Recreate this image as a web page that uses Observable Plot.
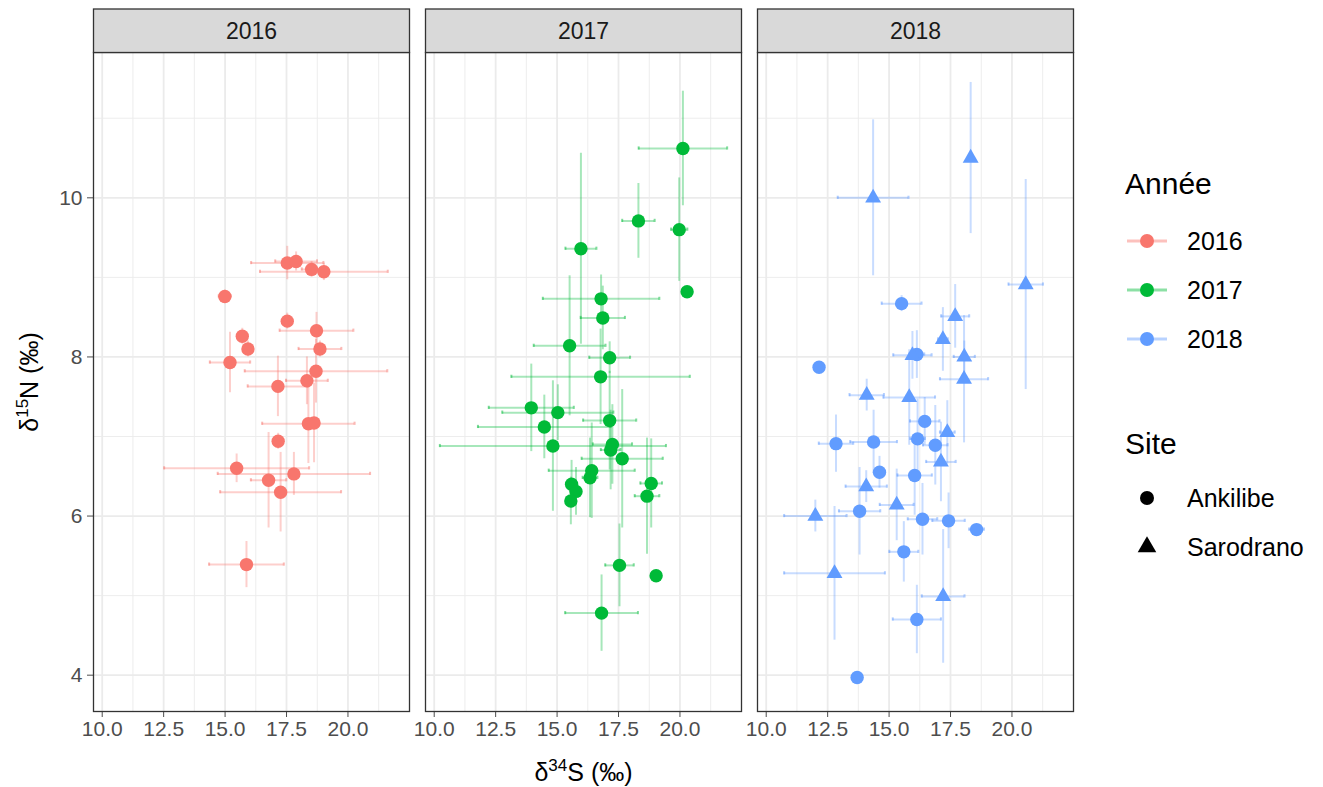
<!DOCTYPE html>
<html>
<head>
<meta charset="utf-8">
<script src="https://cdn.jsdelivr.net/npm/d3@7"></script>
<script src="https://cdn.jsdelivr.net/npm/@observablehq/plot@0.6"></script>
<style>
  html, body { margin: 0; padding: 0; background: #fff; }
  #wrap { position: relative; width: 1323px; height: 787px; font-family: "Liberation Sans", Arial, sans-serif; }
</style>
</head>
<body>
<div id="wrap"></div>
<script>
// ---------- data ----------
const years = ["2016", "2017", "2018"];
const yearColors = ["#F8766D", "#00BA38", "#619CFF"];
const sites = ["Ankilibe", "Sarodrano"];
const xMajor = [10, 12.5, 15, 17.5, 20];
const xMinor = [11.25, 13.75, 16.25, 18.75, 21.25];
const yMajor = [4, 6, 8, 10];
const yMinor = [5, 7, 9, 11];
const xTitle = ["δ", "34", "S (‰)"];
const yTitle = ["δ", "15", "N (‰)"];
const legendColorTitle = "Année";
const legendShapeTitle = "Site";

const A = "Ankilibe", S = "Sarodrano";
// [δ34S, δ15N, sd δ34S, sd δ15N, site]
const data2016 = [
  [17.53, 9.18, 1.47, 0.21, A], [17.89, 9.20, 0.85, 0.12, A], [18.52, 9.10, 0.40, 0.10, A],
  [19.02, 9.07, 2.60, 0.11, A], [14.99, 8.76, 0.25, 0.08, A], [17.53, 8.45, 0.10, 0.10, A],
  [18.72, 8.33, 1.50, 0.23, A], [15.70, 8.26, 0.15, 0.10, A], [15.93, 8.10, 0.15, 0.10, A],
  [18.86, 8.10, 0.87, 0.10, A], [15.20, 7.93, 0.82, 0.38, A], [18.70, 7.82, 2.90, 0.40, A],
  [18.33, 7.70, 0.85, 0.30, A], [17.15, 7.63, 1.23, 0.38, A], [18.39, 7.16, 1.88, 0.50, A],
  [18.62, 7.17, 0.20, 0.50, A], [17.16, 6.94, 0.20, 0.10, A], [15.47, 6.60, 2.95, 0.18, A],
  [17.80, 6.53, 3.10, 0.27, A], [16.77, 6.45, 0.72, 0.60, A], [17.26, 6.30, 2.46, 0.50, A],
  [15.87, 5.39, 1.52, 0.29, A]
];
const data2017 = [
  [20.12, 10.62, 1.80, 0.72, A], [18.31, 9.71, 0.66, 0.47, A], [19.97, 9.60, 0.33, 0.65, A],
  [15.97, 9.36, 0.63, 1.20, A], [20.29, 8.82, 0.05, 0.05, A], [16.79, 8.73, 2.37, 0.30, A],
  [16.86, 8.49, 0.90, 0.40, A], [15.51, 8.14, 1.46, 0.88, A], [17.14, 7.99, 0.83, 0.20, A],
  [16.77, 7.75, 3.63, 0.60, A], [13.95, 7.36, 1.73, 0.55, A], [15.03, 7.30, 2.26, 0.35, A],
  [17.14, 7.20, 1.08, 0.62, A], [14.48, 7.12, 2.70, 0.40, A], [17.25, 6.90, 0.80, 0.50, A],
  [17.18, 6.83, 0.40, 0.50, A], [14.83, 6.88, 4.60, 0.82, A], [17.65, 6.72, 1.65, 0.87, A],
  [16.41, 6.57, 1.75, 0.60, A], [16.34, 6.48, 0.30, 0.50, A], [18.83, 6.41, 0.44, 0.56, A],
  [18.66, 6.25, 0.50, 0.73, A], [15.59, 6.40, 0.20, 0.30, A], [15.77, 6.31, 0.20, 0.30, A],
  [15.56, 6.19, 0.20, 0.30, A], [17.54, 5.38, 0.58, 0.52, A], [19.03, 5.25, 0.05, 0.05, A],
  [16.81, 4.78, 1.48, 0.48, A]
];
const data2018 = [
  [14.35, 10.00, 1.44, 0.98, S], [18.32, 10.50, 0.10, 0.95, S], [20.56, 8.91, 0.70, 1.32, S],
  [15.51, 8.67, 0.81, 0.10, A], [17.69, 8.51, 0.57, 0.40, S], [17.19, 8.22, 0.20, 0.40, S],
  [15.95, 8.02, 0.78, 0.30, S], [16.13, 8.03, 0.30, 0.30, A], [18.06, 8.00, 0.43, 0.20, S],
  [12.15, 7.87, 0.05, 0.05, A], [18.05, 7.72, 0.98, 0.80, S], [14.09, 7.52, 0.70, 0.20, S],
  [15.82, 7.49, 1.05, 0.60, S], [16.45, 7.19, 0.60, 0.30, A], [17.37, 7.05, 0.30, 0.40, S],
  [16.16, 6.97, 0.30, 0.50, A], [14.37, 6.93, 0.95, 0.40, A], [12.84, 6.91, 0.70, 0.36, A],
  [16.88, 6.89, 0.50, 0.50, A], [17.11, 6.68, 0.60, 0.50, S], [14.61, 6.55, 0.20, 0.20, A],
  [16.04, 6.51, 0.70, 0.50, A], [14.07, 6.37, 0.84, 0.20, S], [15.31, 6.14, 0.69, 0.45, S],
  [13.80, 6.06, 0.84, 0.55, A], [12.00, 6.00, 1.27, 0.20, S], [16.36, 5.96, 0.60, 0.45, A],
  [17.42, 5.94, 0.66, 0.35, A], [18.56, 5.83, 0.30, 0.05, A], [15.60, 5.55, 0.59, 0.38, A],
  [12.78, 5.28, 2.05, 0.84, S], [17.20, 4.99, 0.87, 0.84, S], [16.13, 4.70, 0.98, 0.43, A],
  [13.70, 3.97, 0.05, 0.05, A]
];

// ---------- table ----------
const rows = [];
[[years[0], data2016], [years[1], data2017], [years[2], data2018]].forEach(([yr, arr]) =>
  arr.forEach(([s, n, sdS, sdN, site]) => rows.push({year: yr, site, s, n, sdS, sdN})));

// ggplot-like 5% expansion of the data range (incl. error bars)
const xlo = d3.min(rows, d => d.s - d.sdS), xhi = d3.max(rows, d => d.s + d.sdS);
const ylo = d3.min(rows, d => d.n - d.sdN), yhi = d3.max(rows, d => d.n + d.sdN);
const xpad = 0.05 * (xhi - xlo), ypad = 0.05 * (yhi - ylo);

const grid = "#EBEBEB";
const errOpacity = 0.35;

const chart = Plot.plot({
  width: 1085,
  height: 787,
  marginLeft: 92,
  marginRight: 10,
  marginTop: 52,
  marginBottom: 76,
  style: {fontFamily: '"Liberation Sans", Arial, sans-serif', fontSize: "21px", color: "#4D4D4D", background: "#fff", overflow: "visible"},
  facet: {data: rows, x: "year"},
  fx: {domain: years, axis: null, paddingInner: 0.048, paddingOuter: 0},
  x: {domain: [xlo - xpad, xhi + xpad], ticks: xMajor, tickFormat: d3.format(".1f"), tickSize: 6, tickPadding: 4, label: null},
  y: {domain: [ylo - ypad, yhi + ypad], ticks: yMajor, tickSize: 6, tickPadding: 5, label: null},
  color: {domain: years, range: yearColors},
  marks: [
    Plot.ruleX(xMinor, {stroke: grid, strokeWidth: 0.9}),
    Plot.ruleY(yMinor, {stroke: grid, strokeWidth: 0.9}),
    Plot.ruleX(xMajor, {stroke: grid, strokeWidth: 1.8}),
    Plot.ruleY(yMajor, {stroke: grid, strokeWidth: 1.8}),
    // horizontal error bars (δ34S)
    Plot.ruleY(rows, {y: "n", x1: d => d.s - d.sdS, x2: d => d.s + d.sdS, stroke: "year", strokeOpacity: errOpacity, strokeWidth: 2}),
    Plot.ruleX(rows, {x: d => d.s - d.sdS, y1: d => d.n - 0.02, y2: d => d.n + 0.02, stroke: "year", strokeOpacity: 0.5, strokeWidth: 2}),
    Plot.ruleX(rows, {x: d => d.s + d.sdS, y1: d => d.n - 0.02, y2: d => d.n + 0.02, stroke: "year", strokeOpacity: 0.5, strokeWidth: 2}),
    // vertical error bars (δ15N)
    Plot.ruleX(rows, {x: "s", y1: d => d.n - d.sdN, y2: d => d.n + d.sdN, stroke: "year", strokeOpacity: errOpacity, strokeWidth: 2}),
    // points
    Plot.dot(rows, {filter: d => d.site === sites[0], x: "s", y: "n", fill: "year", r: 6.7, symbol: "circle"}),
    Plot.dot(rows, {filter: d => d.site === sites[1], x: "s", y: "n", fill: "year", r: 5.9, symbol: "triangle"}),
    Plot.frame({stroke: "#333", strokeWidth: 1.3})
  ]
});

const wrap = document.getElementById("wrap");
chart.style.position = "absolute";
chart.style.left = "0px";
chart.style.top = "0px";
wrap.appendChild(chart);

// ---------- strips + axis titles derived from the rendered frames ----------
const svg = d3.select(chart);
const svgBox = chart.getBoundingClientRect();
const frameRects = [];
chart.querySelectorAll('[aria-label="frame"]').forEach(el => {
  if (el.tagName.toLowerCase() === "rect") frameRects.push(el);
  else el.querySelectorAll("rect").forEach(r => frameRects.push(r));
});
const frames = frameRects
  .map(el => {
    const b = el.getBoundingClientRect();
    return {left: b.left - svgBox.left, top: b.top - svgBox.top, width: b.width, height: b.height};
  })
  .sort((a, b) => a.left - b.left);

const stripTop = 9;
const stripG = svg.append("g").attr("aria-label", "strips");
frames.forEach((f, i) => {
  stripG.append("rect")
    .attr("x", f.left).attr("y", stripTop)
    .attr("width", f.width).attr("height", f.top - stripTop)
    .attr("fill", "#D9D9D9").attr("stroke", "#333").attr("stroke-width", 1.3);
  stripG.append("text")
    .attr("x", f.left + f.width / 2).attr("y", (stripTop + f.top) / 2)
    .attr("text-anchor", "middle").attr("dominant-baseline", "central")
    .attr("fill", "#1A1A1A").attr("font-size", 23)
    .text(years[i]);
});

if (frames.length) {
  const first = frames[0], last = frames[frames.length - 1];
  const cx = (first.left + last.left + last.width) / 2;
  const cy = first.top + first.height / 2;
  const xt = svg.append("text")
    .attr("x", cx).attr("y", 781)
    .attr("text-anchor", "middle").attr("fill", "#000").attr("font-size", 25);
  xt.append("tspan").text(xTitle[0]);
  xt.append("tspan").attr("font-size", 17).attr("dy", -10).text(xTitle[1]);
  xt.append("tspan").attr("dy", 10).text(xTitle[2]);

  const yt = svg.append("text")
    .attr("transform", `translate(38,${cy}) rotate(-90)`)
    .attr("text-anchor", "middle").attr("fill", "#000").attr("font-size", 25);
  yt.append("tspan").text(yTitle[0]);
  yt.append("tspan").attr("font-size", 17).attr("dy", -10).text(yTitle[1]);
  yt.append("tspan").attr("dy", 10).text(yTitle[2]);
}

// ---------- legend ----------
const leg = d3.select(wrap).append("svg")
  .attr("width", 238).attr("height", 787)
  .style("position", "absolute").style("left", "1085px").style("top", "0px")
  .style("font-family", '"Liberation Sans", Arial, sans-serif');

const keyX0 = 42, keyX1 = 82, keyCx = 62, labelX = 102;
leg.append("text").attr("x", 40).attr("y", 194).attr("font-size", 30).attr("fill", "#000").text(legendColorTitle);
years.forEach((yr, i) => {
  const cy = 241 + i * 49;
  leg.append("line").attr("x1", keyX0).attr("x2", keyX1).attr("y1", cy).attr("y2", cy)
    .attr("stroke", yearColors[i]).attr("stroke-opacity", 0.45).attr("stroke-width", 3);
  leg.append("circle").attr("cx", keyCx).attr("cy", cy).attr("r", 7).attr("fill", yearColors[i]);
  leg.append("text").attr("x", labelX).attr("y", cy).attr("dominant-baseline", "central")
    .attr("font-size", 25).attr("fill", "#000").text(yr);
});

leg.append("text").attr("x", 40).attr("y", 454).attr("font-size", 30).attr("fill", "#000").text(legendShapeTitle);
const symbolTypes = [d3.symbolCircle, d3.symbolTriangle];
const symbolSizes = [Math.PI * 7 * 7, 150];
sites.forEach((s, i) => {
  const cy = 498 + i * 49;
  leg.append("path")
    .attr("d", d3.symbol(symbolTypes[i], symbolSizes[i])())
    .attr("transform", `translate(${keyCx},${cy})`)
    .attr("fill", "#000");
  leg.append("text").attr("x", labelX).attr("y", cy).attr("dominant-baseline", "central")
    .attr("font-size", 25).attr("fill", "#000").text(s);
});
</script>
</body>
</html>
